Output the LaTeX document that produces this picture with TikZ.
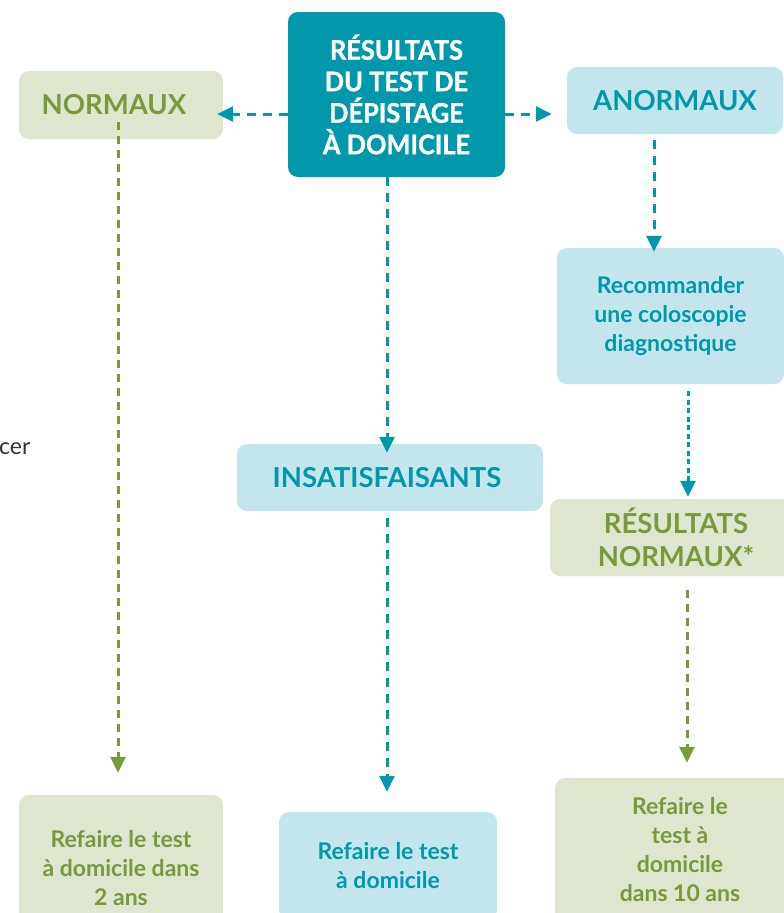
\documentclass[tikz,border=0pt]{standalone}
\usepackage{fontspec}
\setmainfont{Lato}
\newfontfamily\heavyfont{Lato}[FakeStretch=0.94, FakeBold=1.2]
\usetikzlibrary{arrows.meta}
\definecolor{teal}{HTML}{0098AA}
\definecolor{lblue}{HTML}{C2E6EB}
\definecolor{lgreen}{HTML}{DEE6CF}
\definecolor{dgreen}{HTML}{789A3A}
\definecolor{gtext}{HTML}{333333}
\tikzset{
  box/.style={rounded corners=10pt, inner sep=0pt, align=center, draw=none},
  bluebox/.style={box, fill=lblue, text=teal},
  greenbox/.style={box, fill=lgreen, text=dgreen},
  headbox/.style={box, fill=teal, text=white},
  bigcaps/.style={font=\fontsize{27.5}{33}\selectfont\bfseries},
  body/.style={font=\fontsize{23}{29}\selectfont\bfseries},
  conn/.style={line width=3pt, -{Triangle[length=16pt,width=15pt]}, dash pattern=on 9pt off 7pt},
  tconn/.style={conn, draw=teal},
  gconn/.style={conn, draw=dgreen, dash pattern=on 8pt off 6pt},
  dotconn/.style={conn, draw=teal, dash pattern=on 5pt off 3.5pt},
}
\begin{document}
\begin{tikzpicture}[x=1pt,y=-1pt]
\clip (0,0) rectangle (784,913);
\fill[white] (0,0) rectangle (784,913);
% boxes
\node[headbox, minimum width=217pt, minimum height=165pt,
  font=\fontsize{27}{31.5}\selectfont\heavyfont\bfseries] (top) at (396.5,94.5)
  {RÉSULTATS\\DU TEST DE\\DÉPISTAGE\\À DOMICILE};
\node[greenbox, bigcaps, minimum width=204pt, minimum height=68pt] (norm) at (121,105) {NORMAUX\hspace*{14pt}};
\node[bluebox, bigcaps, minimum width=216pt, minimum height=67pt] (anorm) at (675,100.5) {ANORMAUX};
\node[bluebox, body, minimum width=227pt, minimum height=136pt] (reco) at (670.5,316)
  {Recommander\\une coloscopie\\diagnostique};
\node[bluebox, bigcaps, minimum width=306pt, minimum height=67pt] (insat) at (390,477.5) {INSATISFAISANTS\hspace*{6pt}};
\node[greenbox, bigcaps, minimum width=252pt, minimum height=77pt] (rnorm) at (676,537.5)
  {RÉSULTATS\\NORMAUX*};
\node[greenbox, body, minimum width=204pt, minimum height=146pt] (bl) at (121,868)
  {Refaire le test\\à domicile dans\\2 ans};
\node[bluebox, body, minimum width=218pt, minimum height=107pt] (bc) at (388,865.5)
  {Refaire le test\\à domicile};
\node[greenbox, body, minimum width=250pt, minimum height=144pt] (br) at (680,850)
  {Refaire le\\test à\\domicile\\dans 10 ans};
\node[anchor=west, text=gtext, font=\fontsize{23}{25}\selectfont, inner sep=0pt] (cer) at (-1,449) {cer};
% connectors
\draw[tconn] ([yshift=-19.5pt]top.west) -- ([xshift=-6pt,yshift=-9pt]norm.east);
\draw[tconn] ([yshift=-19.5pt]top.east) -- ([xshift=-15pt,yshift=-13.5pt]anorm.west);
\draw[tconn] ([xshift=-9.5pt]top.south) -- ([xshift=-3pt,yshift=-9pt]insat.north);
\draw[gconn] ([xshift=-3pt,yshift=17pt]norm.south) -- ([xshift=-3pt,yshift=22pt]bl.north);
\draw[tconn] ([xshift=-21pt,yshift=-6pt]anorm.south) -- ([xshift=-16.5pt,yshift=-4pt]reco.north);
\draw[dotconn] ([xshift=17.5pt,yshift=-7pt]reco.south) -- ([xshift=12pt,yshift=2pt]rnorm.north);
\draw[tconn] ([xshift=-3pt,yshift=-7pt]insat.south) -- ([xshift=-1pt,yshift=20pt]bc.north);
\draw[gconn] ([xshift=11pt,yshift=-14pt]rnorm.south) -- ([xshift=7pt,yshift=15pt]br.north);
\end{tikzpicture}
\end{document}
